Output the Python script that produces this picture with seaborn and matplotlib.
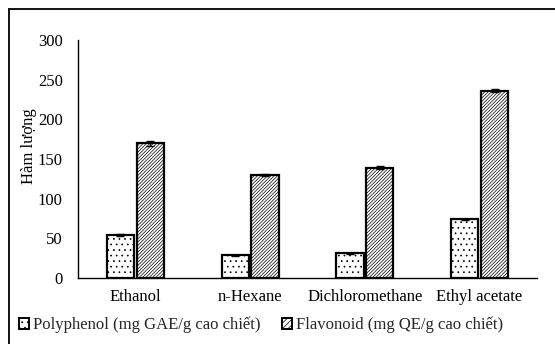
import matplotlib
matplotlib.use("Agg")
import matplotlib.pyplot as plt
import matplotlib.patches as mpatches
import seaborn as sns
import pandas as pd
from matplotlib.lines import Line2D
from matplotlib.container import BarContainer

solvents = ["Ethanol", "n-Hexane", "Dichloromethane", "Ethyl acetate"]
polyphenol = [54, 28.5, 31, 74]
polyphenol_err = [1.0, 0.8, 0.8, 1.0]
flavonoid = [170, 130, 139, 236]
flavonoid_err = [3.0, 1.5, 2.0, 2.0]
series = ["Polyphenol (mg GAE/g cao chiết)", "Flavonoid (mg QE/g cao chiết)"]
yticks = [0, 50, 100, 150, 200, 250, 300]

df = pd.DataFrame({
    "solvent": solvents * 2,
    "value": polyphenol + flavonoid,
    "series": [series[0]] * 4 + [series[1]] * 4,
})

sns.set_theme(style="white")
plt.rcParams["font.family"] = ["Liberation Serif", "DejaVu Serif"]
plt.rcParams["hatch.linewidth"] = 0.5

fig = plt.figure(figsize=(5.55, 3.44), dpi=100)
ax = fig.add_axes([78 / 555, 1 - 278 / 344, (537 - 78) / 555, (278 - 40) / 344])

sns.barplot(data=df, x="solvent", y="value", hue="series", order=solvents,
            hue_order=series, width=0.52, gap=0.09, errorbar=None,
            palette=["white", "white"], edgecolor="black", linewidth=1.6,
            ax=ax, legend=False)

bar_containers = [c for c in ax.containers if isinstance(c, BarContainer)]
hatches = ["...", "//////////"]
for i, cont in enumerate(bar_containers):
    for bar in cont.patches:
        bar.set_hatch(hatches[i])
        bar.set_edgecolor("black")
    xs = [b.get_x() + b.get_width() / 2 for b in cont.patches]
    vals = polyphenol if i == 0 else flavonoid
    errs = polyphenol_err if i == 0 else flavonoid_err
    ax.errorbar(xs, vals, yerr=errs, fmt="none", ecolor="black",
                elinewidth=1.0, capsize=3, capthick=1.0, zorder=5)

ax.set_xlim(-0.5, 3.5)
ax.set_ylim(0, 300)
ax.set_yticks(yticks)
ax.set_yticklabels([str(t) for t in yticks])
ax.tick_params(axis="both", length=0, labelsize=12, colors="black")
ax.tick_params(axis="y", pad=11)
ax.tick_params(axis="x", pad=8)
ax.set_xlabel("")
ax.set_ylabel("Hàm lượng", fontsize=12, color="black")
ax.yaxis.set_label_coords(-0.09, 0.555)
for s in ["top", "right"]:
    ax.spines[s].set_visible(False)
for s in ["left", "bottom"]:
    ax.spines[s].set_color("black")
    ax.spines[s].set_linewidth(1.0)

handles = [mpatches.Patch(facecolor="white", edgecolor="black", hatch=h, linewidth=1.4)
           for h in ["...", "//////"]]
fig.legend(handles, series, loc="center", bbox_to_anchor=(261 / 555, 1 - 325 / 344),
           ncol=2, frameon=False, fontsize=12, handlelength=0.6, handleheight=0.6,
           handletextpad=0.25, columnspacing=1.3, borderpad=0)

# outer frame (left and top edges visible)
fig.add_artist(Line2D([8.5 / 555, 8.5 / 555], [0, 1 - 8.5 / 344], color="black", lw=1.3,
                      transform=fig.transFigure))
fig.add_artist(Line2D([8.5 / 555, 1], [1 - 8.5 / 344, 1 - 8.5 / 344], color="black", lw=1.3,
                      transform=fig.transFigure))

fig.savefig("out.png", dpi=100)
